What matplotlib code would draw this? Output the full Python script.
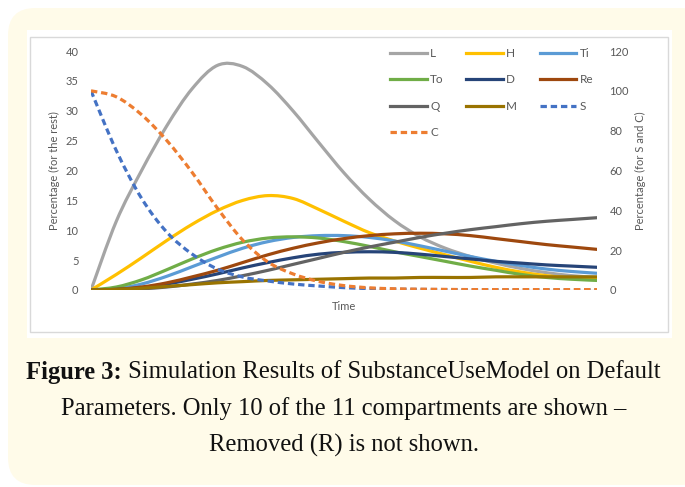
import numpy as np
import matplotlib
matplotlib.use("Agg")
import matplotlib.pyplot as plt
from matplotlib.patches import FancyBboxPatch, Rectangle, PathPatch
from matplotlib.path import Path
from matplotlib.lines import Line2D

# time steps (no tick labels on the time axis)
time = [0, 5, 10, 15, 20, 25, 30, 35, 40, 45, 50, 55, 60, 65, 70, 75, 80, 85, 90, 95, 100]

# compartments on the left axis (percentage)
L = [0, 11.5, 20.0, 27.5, 33.7, 37.6, 37.4, 34.4, 29.9, 24.7, 19.6, 15.2, 11.6, 8.9, 7.0, 5.6, 4.5, 3.6, 2.9, 2.4, 2.1]
H = [0, 2.6, 5.4, 8.3, 11.0, 13.3, 15.0, 15.8, 15.3, 13.5, 11.5, 9.6, 8.2, 7.0, 5.9, 4.8, 3.8, 3.0, 2.4, 2.0, 1.8]
Ti = [0, 0.2, 1.0, 2.3, 3.9, 5.5, 7.0, 8.1, 8.8, 9.1, 9.1, 8.8, 8.2, 7.4, 6.5, 5.6, 4.8, 4.1, 3.5, 3.1, 2.8]
To = [0, 0.5, 1.7, 3.4, 5.2, 6.8, 8.0, 8.7, 8.9, 8.7, 8.1, 7.3, 6.4, 5.6, 4.8, 4.0, 3.3, 2.6, 2.1, 1.8, 1.6]
D = [0, 0.1, 0.4, 1.0, 1.8, 2.7, 3.7, 4.6, 5.4, 6.0, 6.3, 6.4, 6.3, 6.0, 5.6, 5.2, 4.8, 4.5, 4.2, 4.0, 3.8]
Re = [0, 0.1, 0.5, 1.2, 2.2, 3.3, 4.6, 5.9, 7.0, 7.9, 8.6, 9.1, 9.4, 9.5, 9.4, 9.1, 8.6, 8.1, 7.6, 7.2, 6.8]
Q = [0, 0.05, 0.2, 0.5, 1.0, 1.6, 2.4, 3.3, 4.3, 5.3, 6.3, 7.2, 8.0, 8.8, 9.5, 10.1, 10.6, 11.1, 11.5, 11.8, 12.1]
M = [0, 0.1, 0.3, 0.6, 0.9, 1.2, 1.4, 1.6, 1.7, 1.8, 1.9, 2.0, 2.0, 2.1, 2.1, 2.1, 2.2, 2.2, 2.2, 2.2, 2.2]

# S and C on the right axis
S = [100, 70, 46, 29, 18, 10.5, 6.5, 4.5, 3.0, 2.0, 1.2, 0.7, 0.4, 0.3, 0.2, 0.1, 0.1, 0.1, 0.1, 0.1, 0.1]
C = [100, 97, 88, 75, 59, 41, 25, 14, 8, 4.3, 2.2, 1.1, 0.6, 0.4, 0.3, 0.2, 0.2, 0.2, 0.2, 0.2, 0.2]

left_ticks = [0, 5, 10, 15, 20, 25, 30, 35, 40]
right_ticks = [0, 20, 40, 60, 80, 100, 120]

caption_bold = "Figure 3:"
caption_line1 = " Simulation Results of SubstanceUseModel on Default"
caption_line2 = "Parameters. Only 10 of the 11 compartments are shown \u2013"
caption_line3 = "Removed (R) is not shown."


def smooth_path(x, y):
    # smoothed line like Excel: Catmull-Rom segments drawn as cubic Beziers
    p = np.column_stack([x, y]).astype(float)
    ext = np.vstack([p[0], p, p[-1]])
    verts = [p[0]]
    codes = [Path.MOVETO]
    for i in range(len(p) - 1):
        p0, p1, p2, p3 = ext[i], ext[i + 1], ext[i + 2], ext[i + 3]
        verts += [p1 + (p2 - p0) / 6, p2 - (p3 - p1) / 6, p2]
        codes += [Path.CURVE4] * 3
    return Path(verts, codes)


W, H_px = 685, 487
fig = plt.figure(figsize=(W / 100, H_px / 100), dpi=100)
fig.patch.set_facecolor("white")

# cream rounded background box
bg = FancyBboxPatch((8 / W, 2 / H_px), 700 / W, 477 / H_px,
                    boxstyle="round,pad=0,rounding_size=0.04",
                    transform=fig.transFigure, facecolor="#fffbe9",
                    edgecolor="none", zorder=0, mutation_aspect=W / H_px)
fig.patches.append(bg)
# white chart panel with light gray border
fig.patches.append(Rectangle((27 / W, 1 - 338 / H_px), 645 / W, 308 / H_px,
                             transform=fig.transFigure, facecolor="white",
                             edgecolor="none", zorder=1))
fig.patches.append(Rectangle((30 / W, 1 - 332 / H_px), 638 / W, 295 / H_px,
                             transform=fig.transFigure, facecolor="white",
                             edgecolor="#d9d9d9", lw=1.0, zorder=1))

plt.rcParams["font.family"] = ["Lato", "DejaVu Sans"]
txt = "#595959"

ax = fig.add_axes([91 / W, 1 - 290 / H_px, 506 / W, 239 / H_px])
ax.patch.set_alpha(0)
ax2 = ax.twinx()
ax.set_zorder(3)
ax2.set_zorder(4)

lw = 2.3
dash = (0, (2, 1.2))
styles = [
    ("L", L, "#a5a5a5"), ("H", H, "#ffc000"), ("Ti", Ti, "#5b9bd5"),
    ("To", To, "#70ad47"), ("D", D, "#264478"), ("Re", Re, "#9e480e"),
    ("Q", Q, "#636363"), ("M", M, "#997300"),
]
handles = {}
for name, vals, col in styles:
    ax.add_patch(PathPatch(smooth_path(time, vals), fill=False, edgecolor=col,
                           lw=lw, capstyle="round", joinstyle="round"))
    handles[name] = Line2D([], [], color=col, lw=lw)
for name, vals, col in [("S", S, "#4472c4"), ("C", C, "#ed7d31")]:
    ax2.add_patch(PathPatch(smooth_path(time, vals), fill=False, edgecolor=col,
                            lw=lw, ls=dash, capstyle="butt", joinstyle="round"))
    handles[name] = Line2D([], [], color=col, lw=lw, ls=dash)

ax.set_xlim(0, 100)
ax.set_ylim(0, 40)
ax2.set_ylim(0, 120)
ax.set_xticks([])
ax.set_yticks(left_ticks)
ax2.set_yticks(right_ticks)
for a in (ax, ax2):
    for s in a.spines.values():
        s.set_visible(False)
    a.tick_params(axis="y", length=0, labelsize=8, labelcolor=txt)
ax.tick_params(axis="y", pad=9)
ax2.tick_params(axis="y", pad=9)
ax.axhline(0, color="#d9d9d9", lw=1.0, zorder=0)

ax.set_ylabel("Percentage (for the rest)", fontsize=8, color=txt, labelpad=4)
ax2.set_ylabel("Percentage (for S and C)", fontsize=8, color=txt, labelpad=4)
ax.set_xlabel("Time", fontsize=8, color=txt, labelpad=8)

order = ["L", "To", "Q", "C", "H", "D", "M", "Ti", "Re", "S"]
leg = fig.legend([handles[k] for k in order], order, ncol=3, loc="upper left",
                 bbox_to_anchor=(390 / W, 1 - 48 / H_px), frameon=False,
                 fontsize=8.5, labelcolor=txt, handlelength=3.1, handletextpad=0.3,
                 columnspacing=1.9, labelspacing=1.3, borderpad=0, borderaxespad=0)
leg.set_zorder(5)

# caption
fs = 17.7
cap_font = "Liberation Serif"
fig.canvas.draw()
r = fig.canvas.get_renderer()
y1 = 1 - 372 / H_px
tb = fig.text(0, y1, caption_bold, fontsize=fs, family=cap_font, weight="bold",
              va="center", ha="left", color="#111111")
tr = fig.text(0, y1, caption_line1, fontsize=fs, family=cap_font,
              va="center", ha="left", color="#111111")
wb = tb.get_window_extent(r).width
wr = tr.get_window_extent(r).width
x0 = (W / 2 + 1 - (wb + wr) / 2)
tb.set_x(x0 / W)
tr.set_x((x0 + wb) / W)
fig.text((W / 2 + 1) / W, 1 - 409 / H_px, caption_line2, fontsize=fs,
         family=cap_font, va="center", ha="center", color="#111111")
fig.text((W / 2 + 1) / W, 1 - 445 / H_px, caption_line3, fontsize=fs,
         family=cap_font, va="center", ha="center", color="#111111")

fig.savefig("out.png", dpi=100)
